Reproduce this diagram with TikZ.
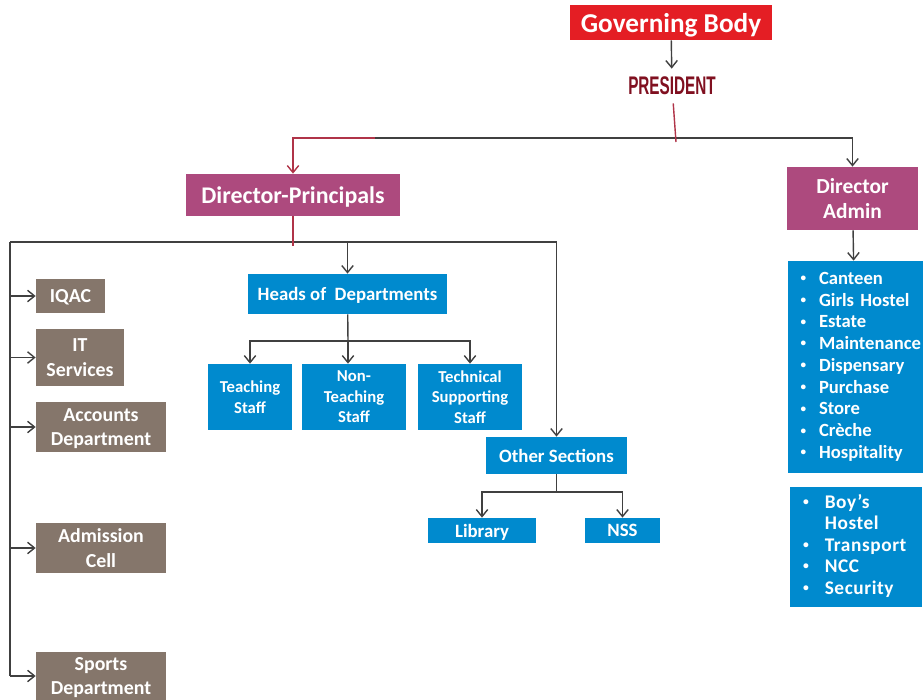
\documentclass[tikz,border=0pt]{standalone}
\usepackage{fontspec}
\setmainfont{Carlito}
\newfontfamily\presfont{Liberation Sans}
\usepackage{graphicx}
\usetikzlibrary{arrows.meta,calc}

\definecolor{govred}{RGB}{228,30,36}
\definecolor{presred}{RGB}{128,16,32}
\definecolor{dirpink}{RGB}{173,74,126}
\definecolor{boxblue}{RGB}{0,138,206}
\definecolor{boxgrey}{RGB}{133,118,107}
\definecolor{linegrey}{RGB}{64,64,64}
\definecolor{linkred}{RGB}{176,52,72}

\newcommand{\dotmark}{\raisebox{0.3ex}{\scalebox{0.6}{\textbullet}}}

\begin{document}
\begin{tikzpicture}[x=0.02cm, y=-0.02cm,
        every node/.style={inner sep=0pt, align=center, text=white},
        govbox/.style={fill=govred, minimum width=40.6mm, minimum height=7mm, text depth=0pt,
            font=\bfseries\fontsize{15.5}{18}\selectfont},
        prestext/.style={text=presred, inner ysep=1.6mm,
            font=\presfont\bfseries\fontsize{14.5}{16}\selectfont},
        dirbox/.style={fill=dirpink, text depth=0pt, font=\bfseries\fontsize{12.2}{14.7}\selectfont},
        bluebox/.style={fill=boxblue, text depth=0pt, font=\bfseries\fontsize{10.7}{13}\selectfont},
        staffbox/.style={bluebox, minimum width=20.8mm, minimum height=13.2mm,
            font=\bfseries\fontsize{9.5}{11.7}\selectfont},
        greybox/.style={fill=boxgrey, minimum width=26mm, minimum height=10mm, text depth=0pt,
            font=\bfseries\fontsize{11.3}{13.8}\selectfont},
        listbox/.style={fill=boxblue, align=left, text width=22mm, inner xsep=2.6mm},
        conn/.style={draw=linegrey, line width=0.8pt},
        redconn/.style={draw=linkred, line width=0.8pt},
        arr/.style={-{Straight Barb[length=4pt,width=6.5pt]}}]

    \useasboundingbox (0,0) rectangle (924,700);

    \node[govbox] (gov) at (671,22.5) {Governing Body};
    \node[prestext] (pres) at (672,86) {\scalebox{0.6}[1]{PRESIDENT}};

    \node[dirbox, font=\bfseries\fontsize{13.6}{16}\selectfont,
        minimum width=42.8mm, minimum height=8.4mm] (dp) at (293,195) {Director-Principals};
    \node[dirbox, minimum width=26.2mm, minimum height=12.6mm] (da) at (852.5,198.5) {Director\\Admin};

    \node[greybox, minimum width=13.8mm, minimum height=6.8mm] (iqac) at (70.5,296) {IQAC};
    \node[greybox, minimum width=17.6mm, minimum height=11.4mm] (it) at (80,357.5) {IT\\Services};
    \node[greybox] (acc) at (101,427) {Accounts\\Department};
    \node[greybox] (adm) at (101,548) {Admission\\Cell};
    \node[greybox, minimum height=9.6mm] (sports) at (101,676) {Sports\\Department};

    \node[bluebox, minimum width=39.8mm, minimum height=8mm] (hod) at (347.5,294) {Heads of~~Departments};
    \node[staffbox, minimum width=16.8mm] (teach) at (250,397) {Teaching\\Staff};
    \node[staffbox] (nonteach) at (354,397) {Non-\\Teaching\\Staff};
    \node[staffbox] (tech) at (470,397) {Technical\\Supporting\\Staff};

    \node[bluebox, minimum width=28.2mm, minimum height=7.4mm] (other) at (556.5,455.5) {Other Sections};
    \node[bluebox, minimum width=21.6mm, minimum height=5mm] (library) at (482,530.5) {Library};
    \node[bluebox, minimum width=15mm, minimum height=5mm] (nss) at (622.5,530.5) {NSS};

    \node[listbox, minimum height=42.4mm, font=\bfseries\fontsize{10.6}{12.4}\selectfont] (adminlist) at (855.5,367)
        {\begin{tabular}{@{}l@{\hspace{2.6mm}}l@{}}
            \dotmark & Canteen\\
            \dotmark & Girls Hostel\\
            \dotmark & Estate\\
            \dotmark & Maintenance\\
            \dotmark & Dispensary\\
            \dotmark & Purchase\\
            \dotmark & Store\\
            \dotmark & Crèche\\
            \dotmark & Hospitality
        \end{tabular}};
    \node[listbox, text width=21.2mm, minimum height=24mm,
        font=\bfseries\fontsize{11}{12.2}\selectfont\addfontfeature{LetterSpace=3}] (otherlist) at (856,547)
        {\begin{tabular}{@{}l@{\hspace{3.2mm}}l@{}}
            \dotmark & Boy’s\\
                     & Hostel\\
            \dotmark & Transport\\
            \dotmark & NCC\\
            \dotmark & Security
        \end{tabular}};

    \coordinate (topfork) at (676,138);
    \coordinate (redjoin) at (375,138);
    \coordinate (lowfork) at (293,242);
    \coordinate (trunk) at (10,242);
    \coordinate (hodfork) at (348,341);
    \coordinate (otherfork) at (556.5,492);

    \draw[conn, arr] (gov) -- (pres);
    \draw[conn] (topfork) -- (redjoin);
    \draw[conn, arr] (topfork) -| (da);
    \draw[redconn] (pres) -- ($(topfork)+(0,4)$);
    \draw[redconn, arr] (redjoin) -| (dp);

    \draw[conn] (trunk) -- (other.north |- trunk);
    \draw[redconn] (dp) -- ($(lowfork)+(0,4)$);
    \draw[conn] (trunk) -- (trunk |- sports);
    \foreach \n in {iqac,it,acc,adm,sports}
        \draw[conn, arr] (trunk |- \n) -- (\n.west);

    \draw[conn, arr] (hod.north |- lowfork) -- (hod);
    \draw[conn, arr] (other.north |- lowfork) -- (other);

    \draw[conn] (hod) -- (hodfork);
    \draw[conn, arr] (hodfork) -| (teach);
    \draw[conn, arr] (hodfork) -| (tech);
    \draw[conn, arr] (hodfork) -- (hodfork |- nonteach.north);

    \draw[conn] (other) -- (otherfork);
    \draw[conn, arr] (otherfork) -| (library);
    \draw[conn, arr] (otherfork) -| (nss);

    \draw[conn, arr] (da) -- (adminlist);
\end{tikzpicture}
\end{document}
